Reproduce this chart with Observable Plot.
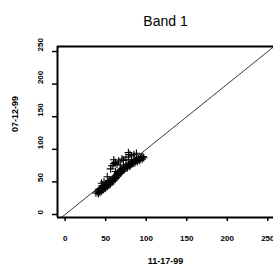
<!DOCTYPE html>
<html><head><meta charset="utf-8">
<script src="https://cdn.jsdelivr.net/npm/d3@7"></script>
<script src="https://cdn.jsdelivr.net/npm/@observablehq/plot@0.6"></script>
<style>body{margin:0;background:#fff;} svg{display:block;}</style>
</head><body><div id="chart"></div>
<script>
const title = "Band 1";
const xLabel = "11-17-99";
const yLabel = "07-12-99";
const xTicks = [0, 50, 100, 150, 200, 250];
const yTicks = [0, 50, 100, 150, 200, 250];
const xDomain = [-9.4, 257];
const yDomain = [-4.6, 257.7];
const xs = [38,40,41,42,43,44,45,46,47,48,49,50,50,51,52,53,54,55,55,56,57,58,58,59,60,60,61,62,63,63,64,65,65,66,67,68,68,69,70,70,71,72,73,74,75,75,76,77,78,79,80,80,81,82,83,84,85,86,87,88,89,90,91,92,93,94,95,96,97,
            56,58,60,62,60,64,66,70,72,75,78,80,82,85,88,78,68,52,48,45,44,42,46,54,62];
const ys = [33,35,32,36,34,38,36,40,38,42,40,44,41,46,43,47,45,49,52,47,51,54,50,53,56,52,58,55,60,57,62,59,64,61,66,63,68,65,70,66,68,72,69,73,71,76,74,72,77,75,79,74,77,81,78,80,83,79,82,85,81,84,87,83,86,88,85,89,87,
            70,75,78,80,84,77,82,85,83,88,95,92,90,92,94,84,76,58,50,48,40,39,44,52,66];
const points = xs.map((x, i) => ({x, y: ys[i]}));
const refRange = [-20, 280];

const chart = Plot.plot({
  width: 273, height: 278,
  marginLeft: 57, marginTop: 46, marginRight: 0, marginBottom: 61,
  style: {fontFamily: "Liberation Sans, Arial, sans-serif", background: "#fff"},
  x: {domain: xDomain, ticks: xTicks},
  y: {domain: yDomain, ticks: yTicks},
  marks: [
    Plot.link([refRange], {x1: d => d[0], y1: d => d[0], x2: d => d[1], y2: d => d[1], stroke: "#222", strokeWidth: 0.9, clip: true}),
    Plot.dot(points, {x: "x", y: "y", symbol: "plus", r: 2.6, stroke: "black", strokeWidth: 1.1}),
    Plot.ruleY(yDomain, {stroke: "black", strokeWidth: 2}),
    Plot.ruleX([xDomain[0]], {stroke: "black", strokeWidth: 2}),
    Plot.axisX(xTicks, {tickSize: 4, tickPadding: 14, fontSize: 8, fontWeight: "bold", label: null, stroke: "black", strokeWidth: 1.5}),
    Plot.axisY(yTicks, {tickSize: 5, tickFormat: () => "", label: null, stroke: "black", strokeWidth: 1.5}),
    Plot.text(yTicks, {y: d => d, text: d => String(d), frameAnchor: "left", dx: -17, rotate: -90, fontSize: 8, fontWeight: "bold", fill: "black"}),
    Plot.text([xLabel], {text: d => d, frameAnchor: "bottom", dy: 46, fontSize: 9, fontWeight: "bold", fill: "black"}),
    Plot.text([yLabel], {text: d => d, frameAnchor: "left", dx: -42, rotate: -90, fontSize: 9, fontWeight: "bold", fill: "black"}),
    Plot.text([title], {text: d => d, frameAnchor: "top", dy: -30, fontSize: 14, fontFamily: "Liberation Sans Narrow, Arial Narrow, Liberation Sans, sans-serif", fill: "black"})
  ]
});
document.getElementById("chart").append(chart);
</script>
</body></html>
